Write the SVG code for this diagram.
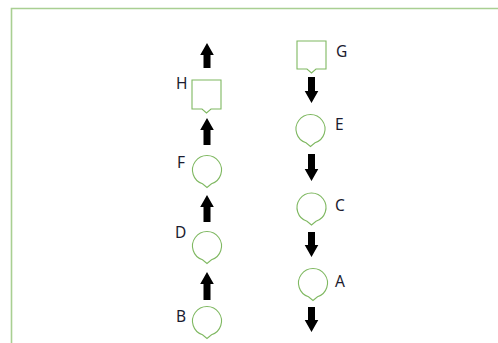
<svg xmlns="http://www.w3.org/2000/svg" width="498" height="343" viewBox="0 0 498 343">
<style>
.frame{fill:none;stroke:#a9cf92;stroke-width:1.6}
.shape{fill:#fff;stroke:#7fb861;stroke-width:1.1}
.arrow{fill:#000}
.lbl{font-family:"Noto Sans","Open Sans",sans-serif;font-size:15.5px;fill:#1c1c30}
</style>
<rect width="498" height="343" fill="#fff"/>
<path class="frame" d="M11.5,345 V8.5 H500"/>
<g id="connectors">
<path class="arrow" d="M207,43 L213.8,55 H210.5 V68 H203.5 V55 H200.2 Z"/>
<path class="arrow" d="M207,118 L213.8,130 H210.5 V145 H203.5 V130 H200.2 Z"/>
<path class="arrow" d="M207,195 L213.8,207 H210.5 V222 H203.5 V207 H200.2 Z"/>
<path class="arrow" d="M207,272 L213.8,284 H210.5 V300 H203.5 V284 H200.2 Z"/>
<path class="arrow" d="M311.5,103 L318.3,91 H315 V77 H308 V91 H304.7 Z"/>
<path class="arrow" d="M311.5,181 L318.3,169 H315 V154 H308 V169 H304.7 Z"/>
<path class="arrow" d="M311.5,257 L318.3,245 H315 V232 H308 V245 H304.7 Z"/>
<path class="arrow" d="M311.5,332 L318.3,320 H315 V307 H308 V320 H304.7 Z"/>
</g>
<g id="node-H">
<path class="shape" d="M192,80 H221 V109 H211 L206.5,113 L202,109 H192 Z"/>
<text class="lbl" x="176" y="89">H</text>
</g>
<g id="node-F">
<path class="shape" d="M202.5,183.8 A14.5,14.5 0 1 1 211.5,183.8 L207,187.5 Z"/>
<text class="lbl" x="177" y="168">F</text>
</g>
<g id="node-D">
<path class="shape" d="M202.5,259.8 A14.5,14.5 0 1 1 211.5,259.8 L207,263.5 Z"/>
<text class="lbl" x="175" y="238">D</text>
</g>
<g id="node-B">
<path class="shape" d="M202.5,334.8 A14.5,14.5 0 1 1 211.5,334.8 L207,338.5 Z"/>
<text class="lbl" x="176" y="322">B</text>
</g>
<g id="node-G">
<path class="shape" d="M297,41 H326 V69 H316 L311.5,73 L307,69 H297 Z"/>
<text class="lbl" x="336" y="57">G</text>
</g>
<g id="node-E">
<path class="shape" d="M306,142.8 A14.5,14.5 0 1 1 315,142.8 L310.5,146.5 Z"/>
<text class="lbl" x="335" y="130">E</text>
</g>
<g id="node-C">
<path class="shape" d="M307,221.3 A14.5,14.5 0 1 1 316,221.3 L311.5,225 Z"/>
<text class="lbl" x="335" y="211">C</text>
</g>
<g id="node-A">
<path class="shape" d="M308.5,296.8 A14.5,14.5 0 1 1 317.5,296.8 L313,300.5 Z"/>
<text class="lbl" x="335" y="287">A</text>
</g>
</svg>
